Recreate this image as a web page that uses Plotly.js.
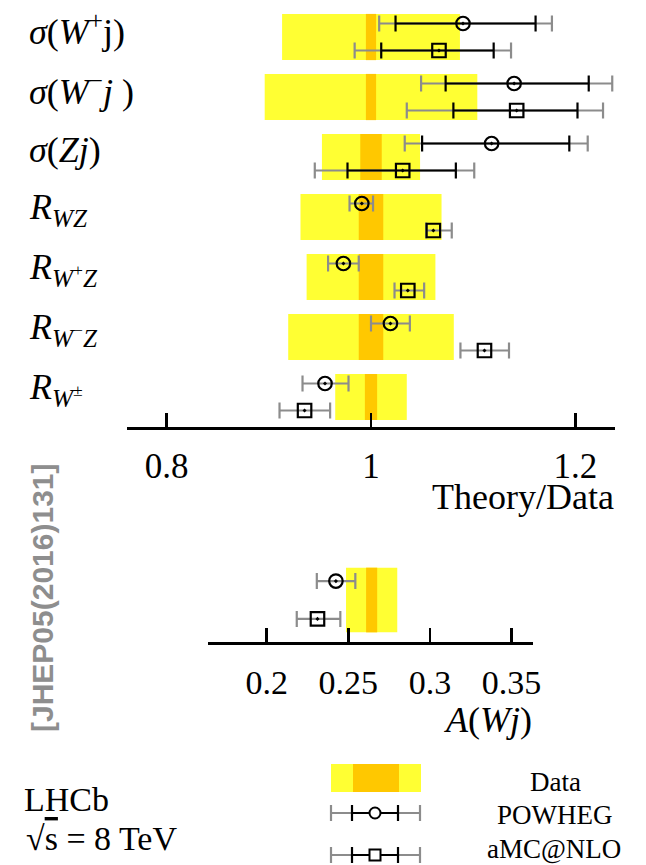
<!DOCTYPE html>
<html>
<head>
<meta charset="utf-8">
<script src="https://cdn.plot.ly/plotly-3.0.1.min.js"></script>
<style>
  html, body { margin: 0; padding: 0; background: #ffffff; }
  #chart { width: 646px; height: 865px; }
</style>
</head>
<body>
<div id="chart"></div>
<script>
// ---- Theory/Data ratios for the seven cross-section observables (top to bottom) ----
const obsLabels = [
  '<i>σ</i>(<i>W</i><sup>+</sup>j)',
  '<i>σ</i>(<i>W</i><sup>−</sup><i>j</i> )',
  '<i>σ</i>(<i>Zj</i>)',
  '<i>R</i><sub><i>WZ</i></sub>',
  '<i>R</i><sub><i>W</i><sup>+</sup><i>Z</i></sub>',
  '<i>R</i><sub><i>W</i><sup>−</sup><i>Z</i></sub>',
  '<i>R</i><sub><i>W</i><sup>±</sup></sub>'
];

// Data: ratio is 1 by construction; total (yellow) and statistical (orange) half-widths
const dataCentre  = [1, 1, 1, 1, 1, 1, 1];
const dataTotErr  = [0.087, 0.104, 0.048, 0.069, 0.063, 0.081, 0.035];
const dataStatErr = [0.005, 0.005, 0.0105, 0.012, 0.012, 0.012, 0.006];

// POWHEG prediction: central value, inner (scale) and outer (total) intervals
const powhegVal   = [1.090, 1.140, 1.118, 0.991, 0.973, 1.019, 0.955];
const powhegInLo  = [1.024, 1.073, 1.050, null, null, null, null];
const powhegInHi  = [1.161, 1.213, 1.194, null, null, null, null];
const powhegOutLo = [1.008, 1.049, 1.033, 0.979, 0.958, 1.000, 0.933];
const powhegOutHi = [1.177, 1.236, 1.212, 1.002, 0.988, 1.038, 0.978];

// aMC@NLO prediction
const amcVal   = [1.0665, 1.1425, 1.031, 1.061, 1.036, 1.111, 0.935];
const amcInLo  = [1.010, 1.0806, 0.977, null, null, null, null];
const amcInHi  = [1.120, 1.202, 1.083, null, null, null, null];
const amcOutLo = [0.984, 1.035, 0.945, 1.054, 1.023, 1.0875, 0.9105];
const amcOutHi = [1.137, 1.227, 1.101, 1.079, 1.052, 1.135, 0.960];

const ratioTicks = [0.8, 1, 1.2];
const ratioTickText = ['0.8', '1', '1.2'];

// ---- W+jet charge asymmetry A(Wj) ----
const asymDataVal  = [0.2643];
const asymTotErr   = [0.0157];
const asymStatErr  = [0.0034];
const asymPowheg   = [0.2424];
const asymPowhegLo = [0.2307];
const asymPowhegHi = [0.2543];
const asymAmc      = [0.2311];
const asymAmcLo    = [0.2184];
const asymAmcHi    = [0.2451];

const asymTicks = [0.2, 0.25, 0.3, 0.35];
const asymTickText = ['0.2', '0.25', '0.3', '0.35'];

// ---- styling ----
const W = 646, H = 865;
const YELLOW = '#ffff33';
const ORANGE = '#ffc800';
const GREY = '#8c8c8c';
const SERIF = 'Liberation Serif, Times New Roman, serif';
const ROW_OFF = 0.225;      // vertical offset of the two predictions inside a row
const BAND_W = 0.77;        // band thickness in row units

const px = x => x / W;
const py = y => 1 - y / H;

const rows = obsLabels.map((_, i) => i);

function bandTrace(centres, half, ys, color, xa, ya) {
  return {
    type: 'bar', orientation: 'h',
    y: ys, base: centres.map((c, i) => c - half[i]), x: half.map(h => 2 * h),
    width: BAND_W, marker: { color: color, line: { width: 0 } },
    xaxis: xa, yaxis: ya, hoverinfo: 'skip', showlegend: false
  };
}

function errTrace(vals, lo, hi, ys, color, xa, ya) {
  const idx = vals.map((v, i) => i).filter(i => lo[i] !== null && hi[i] !== null);
  return {
    type: 'scatter', mode: 'markers',
    x: idx.map(i => vals[i]), y: idx.map(i => ys[i]),
    marker: { size: 1, color: 'rgba(0,0,0,0)' },
    error_x: {
      type: 'data', symmetric: false,
      array: idx.map(i => hi[i] - vals[i]),
      arrayminus: idx.map(i => vals[i] - lo[i]),
      color: color, thickness: 2.2, width: 8
    },
    xaxis: xa, yaxis: ya, hoverinfo: 'skip', showlegend: false
  };
}

function markerTrace(vals, ys, symbol, xa, ya) {
  return {
    type: 'scatter', mode: 'markers', x: vals, y: ys,
    marker: { symbol: symbol, size: 13.5, color: '#000', line: { width: 2.2, color: '#000' } },
    xaxis: xa, yaxis: ya, hoverinfo: 'skip', showlegend: false
  };
}

const yPow = rows.map(r => r - ROW_OFF);
const yAmc = rows.map(r => r + ROW_OFF);

const traces = [
  bandTrace(dataCentre, dataTotErr, rows, YELLOW, 'x', 'y'),
  bandTrace(dataCentre, dataStatErr, rows, ORANGE, 'x', 'y'),
  errTrace(powhegVal, powhegOutLo, powhegOutHi, yPow, GREY, 'x', 'y'),
  errTrace(amcVal, amcOutLo, amcOutHi, yAmc, GREY, 'x', 'y'),
  errTrace(powhegVal, powhegInLo, powhegInHi, yPow, '#000', 'x', 'y'),
  errTrace(amcVal, amcInLo, amcInHi, yAmc, '#000', 'x', 'y'),
  markerTrace(powhegVal, yPow, 'circle-open-dot', 'x', 'y'),
  markerTrace(amcVal, yAmc, 'square-open-dot', 'x', 'y'),

  bandTrace(asymDataVal, asymTotErr, [0], YELLOW, 'x2', 'y2'),
  bandTrace(asymDataVal, asymStatErr, [0], ORANGE, 'x2', 'y2'),
  errTrace(asymPowheg, asymPowhegLo, asymPowhegHi, [-ROW_OFF], GREY, 'x2', 'y2'),
  errTrace(asymAmc, asymAmcLo, asymAmcHi, [ROW_OFF], GREY, 'x2', 'y2'),
  markerTrace(asymPowheg, [-ROW_OFF], 'circle-open-dot', 'x2', 'y2'),
  markerTrace(asymAmc, [ROW_OFF], 'square-open-dot', 'x2', 'y2')
];

const axisCommon = {
  showline: true, linecolor: '#000', linewidth: 2.5,
  ticks: 'inside', ticklen: 14, tickwidth: 2.5, tickcolor: '#000',
  showgrid: false, zeroline: false, fixedrange: true,
  tickfont: { family: SERIF, size: 35, color: '#000' },
  ticklabelstandoff: 6
};

const annotations = obsLabels.map((t, i) => ({
  text: t, xref: 'paper', yref: 'y', x: px(27), y: i - 0.12,
  xanchor: 'left', yanchor: 'middle', showarrow: false,
  font: { family: SERIF, size: 36, color: '#000' }
}));

annotations.push(
  { text: 'Theory/Data', xref: 'paper', yref: 'paper', x: px(616), y: py(497),
    xanchor: 'right', yanchor: 'middle', showarrow: false,
    font: { family: SERIF, size: 36, color: '#000' } },
  { text: '<i>A</i>(<i>Wj</i>)', xref: 'paper', yref: 'paper', x: px(534), y: py(720),
    xanchor: 'right', yanchor: 'middle', showarrow: false,
    font: { family: SERIF, size: 36, color: '#000' } },
  { text: '<b>[JHEP05(2016)131]</b>', xref: 'paper', yref: 'paper', x: px(42), y: py(598),
    xanchor: 'center', yanchor: 'middle', textangle: -90, showarrow: false,
    font: { family: 'Liberation Sans, Arial, sans-serif', size: 30, color: '#8e8e8e' } },
  { text: 'LHCb', xref: 'paper', yref: 'paper', x: px(22), y: py(799),
    xanchor: 'left', yanchor: 'middle', showarrow: false,
    font: { family: SERIF, size: 34, color: '#000' } },
  { text: '√<span style="text-decoration:overline">s</span> = 8 TeV', xref: 'paper', yref: 'paper',
    x: px(24), y: py(838), xanchor: 'left', yanchor: 'middle', showarrow: false,
    font: { family: SERIF, size: 34, color: '#000' } },
  { text: 'Data', xref: 'paper', yref: 'paper', x: px(555), y: py(782),
    xanchor: 'center', yanchor: 'middle', showarrow: false,
    font: { family: SERIF, size: 27, color: '#000' } },
  { text: 'POWHEG', xref: 'paper', yref: 'paper', x: px(555), y: py(815),
    xanchor: 'center', yanchor: 'middle', showarrow: false,
    font: { family: SERIF, size: 27, color: '#000' } },
  { text: 'aMC@NLO', xref: 'paper', yref: 'paper', x: px(554), y: py(849),
    xanchor: 'center', yanchor: 'middle', showarrow: false,
    font: { family: SERIF, size: 27, color: '#000' } }
);

// legend glyphs
function legendBar(yc, marker) {
  const s = [];
  const L = { xref: 'paper', yref: 'paper' };
  s.push(Object.assign({ type: 'line', x0: px(331), x1: px(420), y0: py(yc), y1: py(yc), line: { color: GREY, width: 2.2 } }, L));
  s.push(Object.assign({ type: 'line', x0: px(331), x1: px(331), y0: py(yc - 8), y1: py(yc + 8), line: { color: GREY, width: 2.2 } }, L));
  s.push(Object.assign({ type: 'line', x0: px(420), x1: px(420), y0: py(yc - 8), y1: py(yc + 8), line: { color: GREY, width: 2.2 } }, L));
  s.push(Object.assign({ type: 'line', x0: px(352), x1: px(398), y0: py(yc), y1: py(yc), line: { color: '#000', width: 2.2 } }, L));
  s.push(Object.assign({ type: 'line', x0: px(352), x1: px(352), y0: py(yc - 8), y1: py(yc + 8), line: { color: '#000', width: 2.2 } }, L));
  s.push(Object.assign({ type: 'line', x0: px(398), x1: px(398), y0: py(yc - 8), y1: py(yc + 8), line: { color: '#000', width: 2.2 } }, L));
  s.push(Object.assign({ type: marker, x0: px(369.5), x1: px(380.5), y0: py(yc - 5.5), y1: py(yc + 5.5),
    fillcolor: '#fff', line: { color: '#000', width: 2 } }, L));
  return s;
}

const shapes = [
  { type: 'rect', xref: 'paper', yref: 'paper', x0: px(331), x1: px(421), y0: py(764), y1: py(792),
    fillcolor: YELLOW, line: { width: 0 } },
  { type: 'rect', xref: 'paper', yref: 'paper', x0: px(353), x1: px(399), y0: py(764), y1: py(792),
    fillcolor: ORANGE, line: { width: 0 } }
].concat(legendBar(813, 'circle'), legendBar(855, 'rect'));

const layout = {
  width: W, height: H,
  margin: { l: 0, r: 0, t: 0, b: 0 },
  paper_bgcolor: '#fff', plot_bgcolor: 'rgba(0,0,0,0)',
  showlegend: false, barmode: 'overlay',
  xaxis: Object.assign({}, axisCommon, {
    domain: [px(126.5), px(615)], range: [0.7608, 1.2387],
    tickvals: ratioTicks, ticktext: ratioTickText, anchor: 'y'
  }),
  yaxis: { domain: [py(427.3), 1], range: [6.505, -0.617], visible: false, fixedrange: true, anchor: 'x' },
  xaxis2: Object.assign({}, axisCommon, {
    domain: [px(208), px(533)], range: [0.1640, 0.3632],
    tickvals: asymTicks, ticktext: asymTickText, anchor: 'y2',
    tickfont: { family: SERIF, size: 34, color: '#000' }, ticklabelstandoff: 9
  }),
  yaxis2: { domain: [py(642), py(545)], range: [0.5, -0.655], visible: false, fixedrange: true, anchor: 'x2' },
  annotations: annotations,
  shapes: shapes
};

Plotly.newPlot('chart', traces, layout, { staticPlot: true, displayModeBar: false });
</script>
</body>
</html>
